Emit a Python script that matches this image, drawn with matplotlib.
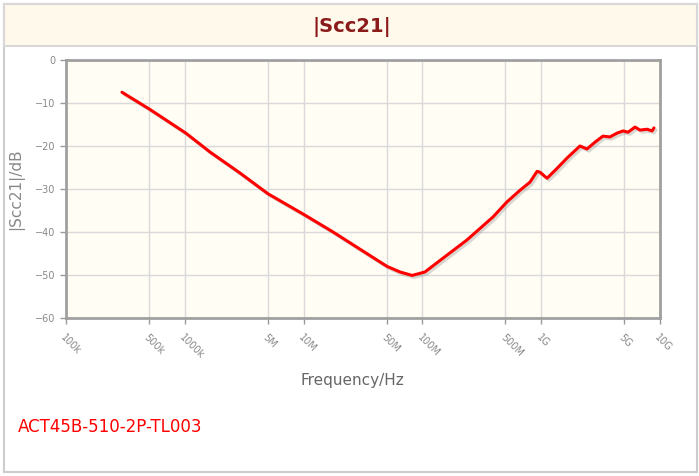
import matplotlib
matplotlib.use("Agg")
import matplotlib.pyplot as plt
import matplotlib.patheffects as pe
from matplotlib.patches import Rectangle
import numpy as np

# curve (Hz, dB)
freq_hz = [2.96e5, 5.09e5, 1.02e6, 1.63e6, 2.92e6, 5.01e6, 1.03e7, 1.77e7,
           3.4e7, 5.04e7, 6.48e7, 8.2e7, 1.05e8, 1.41e8, 2.36e8, 3.93e8,
           5.15e8, 6.63e8, 8.05e8, 9.23e8, 9.78e8, 1.12e9, 1.36e9, 1.65e9,
           2.12e9, 2.43e9, 2.84e9, 3.31e9, 3.79e9, 4.35e9, 4.89e9, 5.38e9,
           6.16e9, 6.79e9, 7.78e9, 8.57e9, 8.9e9]
scc21_db = [-7.5, -11.5, -17.0, -21.4, -26.3, -31.1, -36.1, -40.0,
            -45.0, -48.0, -49.3, -50.1, -49.3, -46.6, -41.9, -36.5,
            -33.0, -30.3, -28.4, -25.9, -26.1, -27.5, -25.2, -22.8,
            -20.0, -20.7, -19.1, -17.7, -17.9, -17.0, -16.5, -16.8,
            -15.6, -16.3, -16.1, -16.5, -15.8]

xtick_vals = [1e5, 5e5, 1e6, 5e6, 1e7, 5e7, 1e8, 5e8, 1e9, 5e9, 1e10]
xtick_labels = ["100k", "500k", "1000k", "5M", "10M", "50M", "100M",
                "500M", "1G", "5G", "10G"]
ytick_vals = [0, -10, -20, -30, -40, -50, -60]

W, H = 699, 476
fig = plt.figure(figsize=(W / 100, H / 100), dpi=100)
fig.patch.set_facecolor("white")

# outer frame and header band
fig.patches.append(Rectangle((4 / W, 1 - 472 / H), 693 / W, 468 / H,
                             transform=fig.transFigure, facecolor="white",
                             edgecolor="#cccccc", lw=1.5, zorder=-2))
fig.patches.append(Rectangle((4 / W, 1 - 46 / H), 693 / W, 42 / H,
                             transform=fig.transFigure, facecolor="#fef9ea",
                             edgecolor="#d8d8d8", lw=1.5, zorder=-1))
fig.text(352 / W, 1 - 27 / H, "|Scc21|", ha="center", va="center",
         fontsize=14, fontweight="bold", color="#8b1a1a")

ax = fig.add_axes([66 / W, 1 - 318 / H, 594 / W, 258 / H])
ax.set_zorder(5)
ax.set_facecolor("#fffdf4")
ax.set_xscale("log")
ax.set_xlim(1e5, 1e10)
ax.set_ylim(-60, 0)

ax.plot(freq_hz, scc21_db, color="#ff0000", lw=2.2, solid_capstyle="round",
        solid_joinstyle="round",
        path_effects=[pe.SimpleLineShadow(offset=(1.5, -1.5), shadow_color="gray",
                                          alpha=0.3), pe.Normal()])

ax.set_xticks(xtick_vals)
ax.set_xticklabels(xtick_labels, rotation=-45, ha="left", va="top",
                   rotation_mode="anchor")
ax.xaxis.set_minor_locator(matplotlib.ticker.NullLocator())
ax.set_yticks(ytick_vals)
ax.grid(True, color="#d9d9d9", lw=1)
ax.set_axisbelow(True)
ax.tick_params(axis="both", colors="#999999", labelcolor="#888888",
               labelsize=7, length=4, width=1)
ax.tick_params(axis="x", pad=6)
for sp in ax.spines.values():
    sp.set_color("#a0a0a0")
    sp.set_linewidth(2)

ax.set_ylabel("|Scc21|/dB", fontsize=11, color="#888888", labelpad=8)
fig.text(352 / W, 1 - 380 / H, "Frequency/Hz", ha="center", va="center",
         fontsize=11, color="#666666")
fig.text(18 / W, 1 - 427 / H, "ACT45B-510-2P-TL003", ha="left", va="center",
         fontsize=12, color="#ff0000")

fig.savefig("out.png", dpi=100)
